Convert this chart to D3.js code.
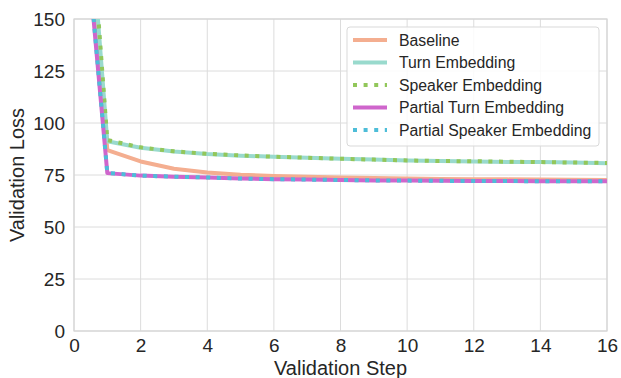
<!DOCTYPE html>
<html><head><meta charset="utf-8">
<script src="https://cdn.jsdelivr.net/npm/d3@7"></script>
<style>body{margin:0;background:#fff;}svg{display:block;font-family:"Liberation Sans",Arial,sans-serif;}</style>
</head><body><svg id="c" width="621" height="378"></svg>
<script>
const steps = [0,1,2,3,4,5,6,7,8,9,10,11,12,13,14,15,16];
const baseline = [280, 87.0, 81.5, 78.0, 76.2, 75.1, 74.5, 74.1, 73.8, 73.5, 73.3, 73.1, 73.0, 72.9, 72.8, 72.7, 72.6];
const turnEmb = [300, 91.2, 88.1, 86.3, 85.1, 84.3, 83.8, 83.3, 82.8, 82.4, 82.0, 81.7, 81.5, 81.3, 81.2, 81.0, 80.7];
const speakerEmb = [310, 91.8, 88.3, 86.4, 85.2, 84.4, 83.8, 83.3, 82.8, 82.4, 82.0, 81.7, 81.6, 81.4, 81.2, 81.0, 80.8];
const partialTurn = [255, 75.9, 74.7, 74.2, 73.8, 73.3, 73.0, 72.8, 72.6, 72.4, 72.3, 72.2, 72.1, 72.1, 72.0, 72.0, 72.0];
const partialSpeaker = [257, 76.0, 74.7, 74.2, 73.8, 73.3, 73.0, 72.8, 72.6, 72.4, 72.3, 72.2, 72.1, 72.1, 72.0, 72.0, 72.0];
const xTicks = [0,2,4,6,8,10,12,14,16];
const yTicks = [0,25,50,75,100,125,150];
const seriesNames = ["Baseline","Turn Embedding","Speaker Embedding","Partial Turn Embedding","Partial Speaker Embedding"];
const seriesData = [baseline, turnEmb, speakerEmb, partialTurn, partialSpeaker];
const colors = ["#f4ae90","#99dacd","#92c75a","#cf66cc","#4dbdd8"];
const dashed = [false,false,true,false,true];

const svg = d3.select("#c");
const L = 74, R = 607, T = 19, B = 331;
const x = d3.scaleLinear().domain([0,16]).range([L,R]);
const y = d3.scaleLinear().domain([0,150]).range([B,T]);
const txt = "#262626";

const gridColor = "#dcdcdc";
svg.append("g").selectAll("line").data(xTicks).join("line")
  .attr("x1", d=>x(d)).attr("x2", d=>x(d)).attr("y1", T).attr("y2", B)
  .attr("stroke", gridColor).attr("stroke-width", 1);
svg.append("g").selectAll("line").data(yTicks).join("line")
  .attr("x1", L).attr("x2", R).attr("y1", d=>y(d)).attr("y2", d=>y(d))
  .attr("stroke", gridColor).attr("stroke-width", 1);
svg.append("rect").attr("x", L).attr("y", T).attr("width", R-L).attr("height", B-T)
  .attr("fill","none").attr("stroke","#d6d6d6").attr("stroke-width",1.2);

const xAxis = d3.axisBottom(x).tickValues(xTicks).tickSize(0).tickPadding(8);
const gx = svg.append("g").attr("transform", `translate(0,${B})`).call(xAxis);
gx.select(".domain").remove();
gx.selectAll("text").attr("font-size", 19).attr("fill", txt).attr("font-family","Liberation Sans, Arial, sans-serif");
const yAxis = d3.axisLeft(y).tickValues(yTicks).tickSize(0).tickPadding(9);
const gy = svg.append("g").attr("transform", `translate(${L},0)`).call(yAxis);
gy.select(".domain").remove();
gy.selectAll("text").attr("font-size", 19).attr("fill", txt).attr("font-family","Liberation Sans, Arial, sans-serif");

svg.append("text").attr("x", (L+R)/2).attr("y", 375).attr("text-anchor","middle")
  .attr("font-size", 20).attr("fill",txt).text("Validation Step");
svg.append("text").attr("transform", `translate(24,${(T+B)/2}) rotate(-90)`).attr("text-anchor","middle")
  .attr("font-size", 20).attr("fill",txt).text("Validation Loss");

svg.append("clipPath").attr("id","clip").append("rect").attr("x",L).attr("y",T).attr("width",R-L).attr("height",B-T);
const line = d3.line().x((d,i)=>x(steps[i])).y(d=>y(d));
const lg = svg.append("g").attr("clip-path","url(#clip)");
seriesData.forEach((s,k)=>{
  lg.append("path").datum(s).attr("d", line).attr("fill","none")
    .attr("stroke", colors[k]).attr("stroke-width", 4)
    .attr("stroke-dasharray", dashed[k] ? "4,6.6" : null)
    .attr("stroke-linejoin","round");
});

const lgX = 347, lgY = 27, lgW = 252, lgH = 119;
const leg = svg.append("g");
leg.append("rect").attr("x", lgX).attr("y", lgY).attr("width", lgW).attr("height", lgH)
  .attr("rx", 3).attr("fill","rgba(255,255,255,0.85)").attr("stroke","#d9d9d9");
seriesNames.forEach((n,k)=>{
  const cy = 40 + k*22.5;
  leg.append("line").attr("x1", 353).attr("x2", 387).attr("y1", cy).attr("y2", cy)
    .attr("stroke", colors[k]).attr("stroke-width", 4)
    .attr("stroke-dasharray", dashed[k] ? "4,6.6" : null);
  leg.append("text").attr("x", 399).attr("y", cy).attr("dy","0.35em")
    .attr("font-size", 15.8).attr("fill",txt).text(n);
});
</script></body></html>
